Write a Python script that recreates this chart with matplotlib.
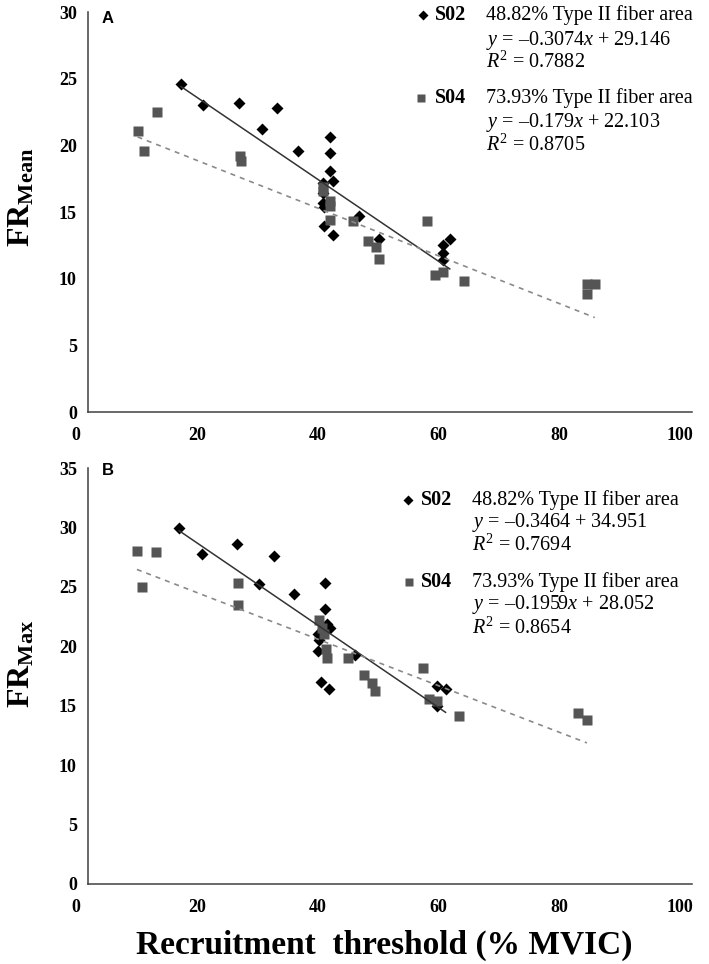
import numpy as np
import matplotlib
matplotlib.use('Agg')
import matplotlib.pyplot as plt
from matplotlib.transforms import ScaledTranslation

plt.rcParams['font.family'] = 'Liberation Serif'
plt.rcParams['mathtext.fontset'] = 'custom'
plt.rcParams['mathtext.rm'] = 'Liberation Serif'
plt.rcParams['mathtext.it'] = 'Liberation Serif:italic'
plt.rcParams['mathtext.bf'] = 'Liberation Serif:bold'

# panel A : FR mean
x_a02 = [15.4, 19.1, 25.0, 28.8, 31.3, 34.7, 38.9, 38.9, 38.9, 39.0, 39.0, 40.0, 40.0, 40.0, 40.5, 40.5, 44.9, 48.2, 58.7, 58.8, 58.7, 59.9]
y_a02 = [24.6, 23.0, 23.2, 21.2, 22.8, 19.6, 17.2, 16.45, 15.65, 15.35, 13.95, 20.6, 19.4, 18.1, 17.3, 13.3, 14.7, 13.0, 12.5, 11.95, 11.4, 13.0]
x_a04 = [8.2, 9.2, 11.5, 25.2, 25.4, 38.9, 38.9, 40.1, 40.1, 40.1, 43.8, 46.4, 47.7, 48.2, 56.2, 57.5, 58.8, 62.3, 82.6, 83.9, 82.6]
y_a04 = [21.1, 19.6, 22.5, 19.2, 18.85, 16.9, 16.6, 15.8, 15.45, 14.4, 14.3, 12.8, 12.4, 11.45, 14.3, 10.3, 10.5, 9.85, 9.6, 9.6, 8.85]
fit_a02 = (-0.3074, 29.146)
fit_a04 = (-0.179, 22.103)
txt_a02 = ['48.82% Type II fiber area', '$y$ = –0.3074$x$ + 29.146', '$R^2$ = 0.7882']
txt_a04 = ['73.93% Type II fiber area', '$y$ = –0.179$x$ + 22.103', '$R^2$ = 0.8705']

# panel B : FR max
x_b02 = [15.1, 18.8, 24.6, 28.3, 30.8, 34.1, 38.0, 38.1, 38.3, 38.5, 39.2, 39.2, 39.5, 39.9, 40.1, 44.2, 57.8, 57.8, 59.2]
y_b02 = [29.95, 27.8, 28.6, 25.2, 27.6, 24.4, 21.0, 19.6, 20.5, 17.0, 25.3, 23.1, 21.9, 16.4, 21.5, 19.3, 16.7, 15.0, 16.4]
x_b04 = [8.1, 8.9, 11.3, 24.9, 24.9, 38.2, 38.8, 39.1, 39.4, 39.5, 43.1, 45.7, 47.0, 47.5, 55.4, 56.5, 57.8, 61.4, 81.2, 82.6]
y_b04 = [28.0, 25.0, 27.9, 25.3, 23.5, 22.2, 21.5, 21.0, 19.8, 19.0, 19.0, 17.6, 16.9, 16.2, 18.15, 15.6, 15.4, 14.1, 14.4, 13.8]
fit_b02 = (-0.3464, 34.951)
fit_b04 = (-0.1959, 28.052)
txt_b02 = ['48.82% Type II fiber area', '$y$ = –0.3464 + 34.951', '$R^2$ = 0.7694']
txt_b04 = ['73.93% Type II fiber area', '$y$ = –0.1959$x$ + 28.052', '$R^2$ = 0.8654']

xticks = [0, 20, 40, 60, 80, 100]

fig = plt.figure(figsize=(7.09, 9.64), dpi=100)
axA = fig.add_axes([0.1241, 0.5726, 0.8519, 0.4149])
axB = fig.add_axes([0.1241, 0.0830, 0.8519, 0.4315])

dclr = 'black'
sclr = '#555555'

def panel(ax, x02, y02, x04, y04, f02, f04, t02, t04, ymax, letter, ylab, ypos, lpos):
    ax.plot(x02, y02, 'D', ms=6, color=dclr, mec='none', zorder=3)
    ax.plot(x04, y04, 's', ms=6.8, color=sclr, mec='none', zorder=4)
    xx = np.array([min(x02), max(x02)])
    ax.plot(xx, f02[0]*xx + f02[1], '-', color='#333333', lw=1.1, zorder=5)
    xx = np.array([min(x04), max(x04)])
    ax.plot(xx, f04[0]*xx + f04[1], '--', color='#8a8a8a', lw=1.2, dashes=(3, 3), zorder=5)
    ax.set_xlim(0, 100)
    ax.set_ylim(0, ymax)
    ax.set_xticks(xticks)
    ax.set_yticks(np.arange(0, ymax+1, 5))
    for s in ['top', 'right']:
        ax.spines[s].set_visible(False)
    for s in ['left', 'bottom']:
        ax.spines[s].set_color('#404040')
        ax.spines[s].set_linewidth(1.1)
    ax.tick_params(length=0, labelsize=13)
    ax.tick_params(axis='y', pad=8)
    ax.tick_params(axis='x', pad=11)
    for lab in ax.get_yticklabels() + ax.get_xticklabels():
        lab.set_fontweight('bold')
    for lab in ax.get_xticklabels():
        lab.set_transform(lab.get_transform() + ScaledTranslation(-12/100., 0, fig.dpi_scale_trans))
    ax.text(0.023, ypos, letter, transform=ax.transAxes, fontsize=12, fontweight='bold',
            family='Liberation Sans', ha='left', va='center')
    ax.set_ylabel(ylab, fontsize=23)
    ax.yaxis.set_label_coords(-0.085, lpos)
    return ax

panel(axA, x_a02, y_a02, x_a04, y_a04, fit_a02, fit_a04, txt_a02, txt_a04, 30, 'A',
      r'$\mathbf{FR}_{\mathbf{Mean}}$', 0.985, 0.5375)
panel(axB, x_b02, y_b02, x_b04, y_b04, fit_b02, fit_b04, txt_b02, txt_b04, 35, 'B',
      r'$\mathbf{FR}_{\mathbf{Max}}$', 0.995, 0.53)

def legend_block(ax, xm, xs, xt, ys, mk, clr, name, lines):
    ax.plot([xm], [ys[0]], mk, ms=5 if mk == 'D' else 6, color=clr, mec='none',
            transform=ax.transAxes, clip_on=False)
    ax.text(xs, ys[0], name, transform=ax.transAxes, fontsize=14.5, fontweight='bold',
            ha='left', va='center')
    for t, yy in zip(lines, ys):
        ax.text(xt, yy, t, transform=ax.transAxes, fontsize=14.5, ha='left', va='center')

legend_block(axA, 0.555, 0.574, 0.659, [0.9925, 0.93, 0.875], 'D', dclr, 'S02', txt_a02)
legend_block(axA, 0.551, 0.574, 0.659, [0.785, 0.725, 0.6675], 's', sclr, 'S04', txt_a04)
legend_block(axB, 0.530, 0.551, 0.636, [0.923, 0.870, 0.815], 'D', dclr, 'S02', txt_b02)
legend_block(axB, 0.531, 0.551, 0.636, [0.726, 0.671, 0.615], 's', sclr, 'S04', txt_b04)

axB.set_xlabel('Recruitment  threshold (% MVIC)', fontsize=24, fontweight='bold')
axB.xaxis.set_label_coords(0.491, -0.11)

fig.savefig('out.png', dpi=100)
